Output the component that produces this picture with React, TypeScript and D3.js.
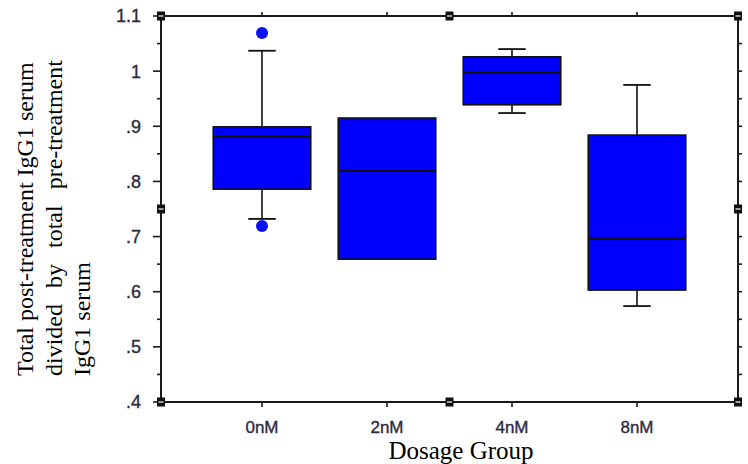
import React from "react";
import * as d3 from "d3";

// Box summaries per dosage group
const categories = ["0nM", "2nM", "4nM", "8nM"];
const whiskerLow = [0.732, 0.659, 0.924, 0.574];
const q1 = [0.786, 0.659, 0.939, 0.603];
const medians = [0.881, 0.819, 0.997, 0.696];
const q3 = [0.899, 0.915, 1.026, 0.884];
const whiskerHigh = [1.037, 0.915, 1.04, 0.975];
const outlierGroups = ["0nM", "0nM"];
const outlierValues = [1.069, 0.719];

const yTicks = [0.4, 0.5, 0.6, 0.7, 0.8, 0.9, 1.0, 1.1];
const yTickLabels = [".4", ".5", ".6", ".7", ".8", ".9", "1", "1.1"];
const yLabelLines = [
  "Total post-treatment IgG1 serum",
  "divided by total pre-treatment",
  "IgG1 serum",
];
const xTitle = "Dosage Group";

const W = 748;
const H = 464;
const left = 161;
const right = 738;
const top = 16;
const bottom = 402;

export default function App() {
  const x = d3.scalePoint<string>().domain(categories).range([left, right]).padding(0.808);
  const y = d3.scaleLinear().domain([0.4, 1.1]).range([bottom, top]);
  const boxW = x.step() * 0.78;
  const capW = x.step() * 0.22;
  const minorTicks = d3.range(0.45, 1.1, 0.1);
  const allRightTicks = d3.range(0.45, 1.1, 0.05);
  const axisColor = "#1a1a1a";
  const tickColor = "#2d2a40";
  const tickFont = "'Liberation Sans', Arial, sans-serif";
  const serif = "'Liberation Serif', 'Times New Roman', serif";

  const handles: [number, number][] = [
    [left, top],
    [(left + right) / 2, top],
    [right, top],
    [left, (top + bottom) / 2],
    [right, (top + bottom) / 2],
    [left, bottom],
    [(left + right) / 2, bottom],
    [right, bottom],
  ];

  return (
    <svg
      width={W}
      height={H}
      style={{ position: "absolute", left: 0, top: 0, background: "#fff" }}
    >
      <rect x={0} y={0} width={W} height={H} fill="#fff" />

      {/* boxes */}
      {categories.map((c, i) => {
        const cx = x(c)!;
        return (
          <g key={c}>
            {whiskerHigh[i] > q3[i] && (
              <>
                <line x1={cx} x2={cx} y1={y(q3[i])} y2={y(whiskerHigh[i])} stroke="#111" strokeWidth={1.6} />
                <line x1={cx - capW / 2} x2={cx + capW / 2} y1={y(whiskerHigh[i])} y2={y(whiskerHigh[i])} stroke="#111" strokeWidth={1.8} />
              </>
            )}
            {whiskerLow[i] < q1[i] && (
              <>
                <line x1={cx} x2={cx} y1={y(q1[i])} y2={y(whiskerLow[i])} stroke="#111" strokeWidth={1.6} />
                <line x1={cx - capW / 2} x2={cx + capW / 2} y1={y(whiskerLow[i])} y2={y(whiskerLow[i])} stroke="#111" strokeWidth={1.8} />
              </>
            )}
            <rect
              x={cx - boxW / 2}
              y={y(q3[i])}
              width={boxW}
              height={y(q1[i]) - y(q3[i])}
              fill="#0000ff"
              stroke="#111"
              strokeWidth={1.6}
            />
            <line x1={cx - boxW / 2} x2={cx + boxW / 2} y1={y(medians[i])} y2={y(medians[i])} stroke="#111" strokeWidth={2} />
          </g>
        );
      })}

      {/* outliers */}
      {outlierValues.map((v, i) => (
        <circle key={i} cx={x(outlierGroups[i])!} cy={y(v)} r={6} fill="#0a10f5" />
      ))}

      {/* frame */}
      <rect x={left} y={top} width={right - left} height={bottom - top} fill="none" stroke={axisColor} strokeWidth={2} />

      {/* left axis ticks */}
      {yTicks.map((t) => (
        <line key={"M" + t} x1={left - 8} x2={left} y1={y(t)} y2={y(t)} stroke={axisColor} strokeWidth={1.6} />
      ))}
      {minorTicks.map((t) => (
        <line key={"m" + t} x1={left - 4} x2={left} y1={y(t)} y2={y(t)} stroke={axisColor} strokeWidth={1.6} />
      ))}
      {/* right axis ticks */}
      {allRightTicks.map((t) => (
        <line key={"r" + t} x1={right} x2={right + 4} y1={y(t)} y2={y(t)} stroke={axisColor} strokeWidth={1.6} />
      ))}
      {/* top and bottom category ticks */}
      {categories.map((c) => (
        <g key={"t" + c}>
          <line x1={x(c)!} x2={x(c)!} y1={top} y2={top - 4} stroke={axisColor} strokeWidth={1.6} />
          <line x1={x(c)!} x2={x(c)!} y1={bottom} y2={bottom + 5} stroke={axisColor} strokeWidth={1.6} />
        </g>
      ))}

      {/* frame handles */}
      {handles.map(([hx, hy], i) => (
        <g key={"h" + i}>
          <rect x={hx - 4} y={hy - 4.5} width={8} height={9} fill="#111" />
          <rect x={hx - 2.5} y={hy - 0.6} width={5} height={1.2} fill="#fff" />
        </g>
      ))}

      {/* y tick labels */}
      {yTicks.map((t, i) => (
        <text
          key={"yl" + t}
          x={141}
          y={y(t)}
          dy="0.36em"
          textAnchor="end"
          fontFamily={tickFont}
          fontSize={18}
          fill={tickColor}
          stroke={tickColor}
          strokeWidth={0.35}
        >
          {yTickLabels[i]}
        </text>
      ))}

      {/* x tick labels */}
      {categories.map((c) => (
        <text
          key={"xl" + c}
          x={x(c)!}
          y={433}
          textAnchor="middle"
          fontFamily={tickFont}
          fontSize={17}
          fill={tickColor}
          stroke={tickColor}
          strokeWidth={0.35}
        >
          {c}
        </text>
      ))}

      {/* x title */}
      <text x={461} y={459} textAnchor="middle" fontFamily={serif} fontSize={25} fill="#000">
        {xTitle}
      </text>

      {/* y title */}
      {yLabelLines.map((line, i) => (
        <text
          key={"yt" + i}
          transform={`translate(${[33, 61.5, 90][i]},376) rotate(-90)`}
          fontFamily={serif}
          fontSize={24}
          fill="#000"
          style={i === 1 ? { wordSpacing: "10px" } : undefined}
        >
          {line}
        </text>
      ))}
    </svg>
  );
}
